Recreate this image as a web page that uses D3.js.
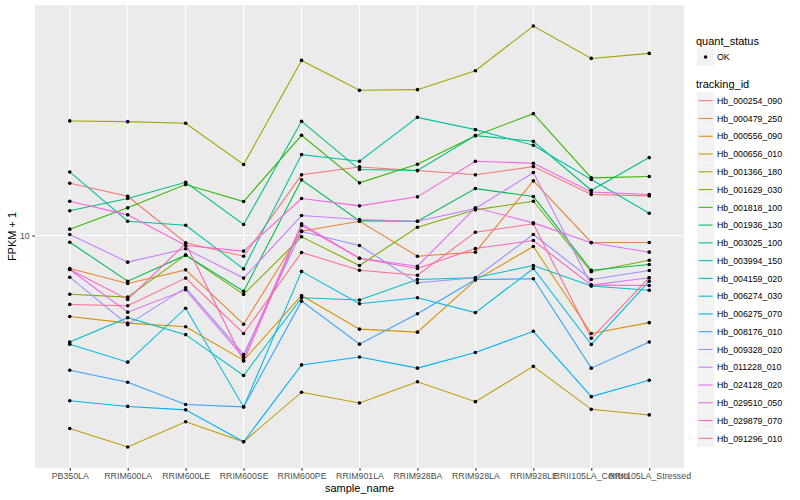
<!DOCTYPE html>
<html><head><meta charset="utf-8">
<script src="https://cdn.jsdelivr.net/npm/d3@7"></script>
<style>body{margin:0;background:#fff}svg{display:block;font-family:"Liberation Sans",Arial,sans-serif}</style>
</head><body>
<svg id="c" width="800" height="500"></svg>
<script>
const samples = ["PB350LA","RRIM600LA","RRIM600LE","RRIM600SE","RRIM600PE","RRIM901LA","RRIM928BA","RRIM928LA","RRIM928LE","RRII105LA_Control","RRII105LA_Stressed"];
const trackingIds = ["Hb_000254_090","Hb_000479_250","Hb_000556_090","Hb_000656_010","Hb_001366_180","Hb_001629_030","Hb_001818_100","Hb_001936_130","Hb_003025_100","Hb_003994_150","Hb_004159_020","Hb_006274_030","Hb_006275_070","Hb_008176_010","Hb_009328_020","Hb_011228_010","Hb_024128_020","Hb_029510_050","Hb_029879_070","Hb_091296_010"];
const colors = ["#F8766D","#EA8331","#D89000","#C09B00","#A3A500","#7CAE00","#39B600","#00BB4E","#00BF7D","#00C1A3","#00BFC4","#00BAE0","#00B0F6","#35A2FF","#9590FF","#C77CFF","#E76BF3","#FA62DB","#FF62BC","#FF6C91"];
const yTicks = [10];
// FPKM + 1 per tracking id, in sample order
const v000254_090 = [14.94,13.52,9.46,8.53,15.94,16.94,16.47,15.94,16.98,13.70,13.56];
const v000479_250 = [7.76,6.92,7.68,5.06,10.34,11.16,8.53,8.80,15.22,9.48,9.48];
const v000556_090 = [5.37,5.10,4.96,3.83,6.31,4.87,4.76,7.10,9.19,4.71,5.12];
const v000656_010 = [2.27,1.97,2.39,2.05,3.00,2.76,3.25,2.79,3.66,2.63,2.52];
const v001366_180 = [24.12,23.99,23.68,17.25,38.40,30.51,30.67,35.48,50.0,38.99,40.52];
const v001629_030 = [6.37,6.23,8.60,6.36,9.90,7.94,10.66,12.18,13.01,7.57,8.27];
const v001818_100 = [10.50,12.37,14.79,12.98,21.60,14.99,17.29,21.54,25.51,15.57,15.73];
const v001936_130 = [9.50,7.04,8.60,6.52,15.34,11.19,11.16,14.34,13.49,7.66,8.00];
const v003025_100 = [12.09,13.29,15.05,10.88,24.04,16.60,16.47,21.54,20.62,14.16,18.20];
const v003994_150 = [16.30,11.16,10.82,7.74,18.62,17.69,24.79,22.56,20.00,15.37,11.87];
const v004159_020 = [4.41,5.32,4.67,3.41,6.20,6.09,7.13,7.23,7.94,6.78,6.57];
const v006274_030 = [4.34,3.78,5.72,2.68,7.59,5.92,6.20,5.53,7.76,4.33,7.04];
const v006275_070 = [2.81,2.69,2.62,2.05,3.70,3.93,3.61,4.07,4.79,2.90,3.29];
const v008176_010 = [3.55,3.24,2.73,2.68,6.04,4.34,5.48,7.13,7.17,3.61,4.41];
const v009328_020 = [7.26,5.04,6.69,4.01,10.31,9.26,6.96,7.23,10.08,7.13,7.64];
const v011228_010 = [10.08,8.15,9.03,7.21,11.66,11.31,11.16,12.30,16.22,6.83,7.23];
const v024128_020 = [7.70,5.55,6.59,3.92,10.94,8.40,7.90,12.37,11.02,9.46,8.80];
const v029510_050 = [13.01,11.72,9.26,8.87,13.29,12.56,13.46,17.69,17.42,13.98,13.70];
const v029879_070 = [7.70,6.12,9.40,3.81,10.80,8.40,7.76,9.05,9.62,6.83,6.81];
const v091296_010 = [5.89,5.83,7.21,4.71,8.78,7.66,7.37,10.26,10.94,4.54,7.23];
const seriesValues = [v000254_090,v000479_250,v000556_090,v000656_010,v001366_180,v001629_030,v001818_100,v001936_130,v003025_100,v003994_150,v004159_020,v006274_030,v006275_070,v008176_010,v009328_020,v011228_010,v024128_020,v029510_050,v029879_070,v091296_010];

const svg = d3.select("#c");
const P = {l:35, r:684, t:5, b:468};
const series = trackingIds.map((id,i)=>({id, color:colors[i], values:seriesValues[i].map((v,j)=>({s:samples[j], v}))}));
const all = seriesValues.flat();
const lmin = Math.log10(d3.min(all)), lmax = Math.log10(d3.max(all));
const ex = (lmax-lmin)*0.05;
const x = d3.scalePoint().domain(samples).range([P.l,P.r]).padding(0.6);
const y = d3.scaleLog().domain([Math.pow(10,lmin-ex), Math.pow(10,lmax+ex)]).range([P.b,P.t]);

svg.append("rect").attr("x",P.l).attr("y",P.t).attr("width",P.r-P.l).attr("height",P.b-P.t).attr("fill","#EBEBEB");
// grid
svg.append("g").selectAll("line").data(yTicks).join("line")
  .attr("x1",P.l).attr("x2",P.r).attr("y1",d=>y(d)).attr("y2",d=>y(d)).attr("stroke","#fff").attr("stroke-width",1.07);
svg.append("g").selectAll("line").data(samples).join("line")
  .attr("x1",d=>x(d)).attr("x2",d=>x(d)).attr("y1",P.t).attr("y2",P.b).attr("stroke","#fff").attr("stroke-width",1.07);

// axes
const xa = svg.append("g").attr("transform",`translate(0,${P.b})`).call(d3.axisBottom(x).tickSize(2.75).tickPadding(2.5));
const ya = svg.append("g").attr("transform",`translate(${P.l},0)`).call(d3.axisLeft(y).tickValues(yTicks).tickFormat(d3.format("d")).tickSize(2.75).tickPadding(2.5));
[xa,ya].forEach(a=>{a.select(".domain").remove();a.selectAll(".tick line").attr("stroke","#333").attr("stroke-width",1.07);a.selectAll("text").attr("fill","#4D4D4D").attr("font-size","8.8px").attr("font-family","'Liberation Sans',Arial,sans-serif");});

// lines
const line = d3.line().x(d=>x(d.s)).y(d=>y(d.v));
svg.append("g").selectAll("path").data(series).join("path")
  .attr("d",d=>line(d.values)).attr("fill","none").attr("stroke",d=>d.color).attr("stroke-width",1.07);
// points
svg.append("g").selectAll("g").data(series).join("g").selectAll("circle").data(d=>d.values).join("circle")
  .attr("cx",d=>x(d.s)).attr("cy",d=>y(d.v)).attr("r",1.8).attr("fill","#000");

// titles
svg.append("text").attr("x",(P.l+P.r)/2).attr("y",492).attr("text-anchor","middle").attr("font-size","11px").text("sample_name");
svg.append("text").attr("transform",`translate(16,${(P.t+P.b)/2}) rotate(-90)`).attr("text-anchor","middle").attr("font-size","11px").text("FPKM + 1");

// legend
const lg = svg.append("g");
lg.append("text").attr("x",696).attr("y",44.7).attr("font-size","11px").text("quant_status");
lg.append("rect").attr("x",697).attr("y",48.3).attr("width",17.3).attr("height",17.3).attr("fill","#F2F2F2");
lg.append("circle").attr("cx",705.6).attr("cy",57).attr("r",1.8).attr("fill","#000");
lg.append("text").attr("x",717).attr("y",60.2).attr("font-size","8.8px").text("OK");
lg.append("text").attr("x",696).attr("y",88).attr("font-size","11px").text("tracking_id");
const step = 17.77;
const items = lg.selectAll("g.k").data(series).join("g").attr("class","k").attr("transform",(d,i)=>`translate(0,${100.7+i*step})`);
items.append("rect").attr("x",697).attr("y",-8.6).attr("width",17.3).attr("height",17.3).attr("fill","#F2F2F2");
items.append("line").attr("x1",698.7).attr("x2",712.6).attr("y1",0).attr("y2",0).attr("stroke",d=>d.color).attr("stroke-width",1.07);
items.append("text").attr("x",717).attr("y",3.2).attr("font-size","8.8px").text(d=>d.id);
</script>
</body></html>
